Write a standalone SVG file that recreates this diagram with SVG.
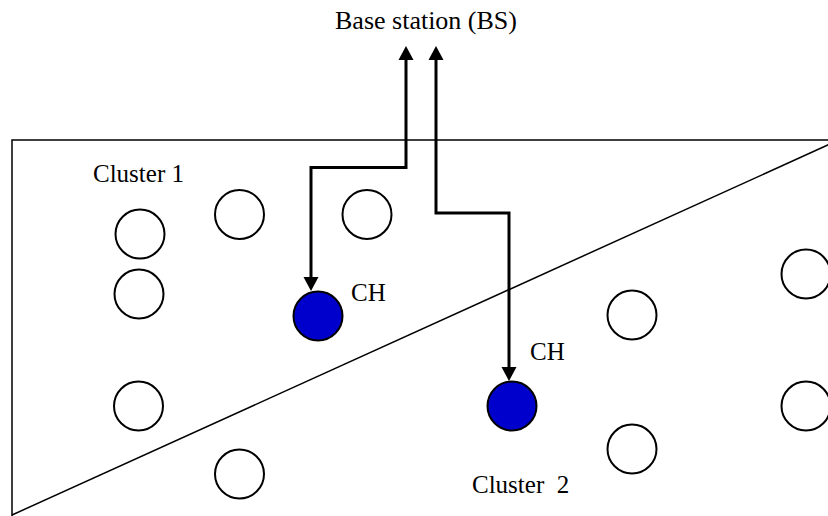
<svg xmlns="http://www.w3.org/2000/svg" width="828" height="516" viewBox="0 0 828 516">
<style>
.frame{fill:none;stroke:#000;stroke-width:1.5}
.node{fill:#fff;stroke:#000;stroke-width:2}
.ch{fill:#0000cc;stroke:#000;stroke-width:2}
.link{fill:none;stroke:#000;stroke-width:3;stroke-linejoin:miter}
text{font-family:"Liberation Serif","Times New Roman",serif;font-size:25px;fill:#000}
.big{font-size:26px}
</style>
<defs>
<marker id="ah" markerUnits="userSpaceOnUse" markerWidth="16" markerHeight="16" viewBox="0 -8 15 16" refX="0" refY="0" orient="auto-start-reverse">
<path d="M0,-7.5 L14,0 L0,7.5 z" fill="#000"/>
</marker>
</defs>
<rect width="828" height="516" fill="#fff"/>
<g id="area">
<path class="frame" d="M12,516 V140 H840"/>
<path class="frame" d="M12,515 L840,139.5"/>
</g>
<g id="bs"><text class="big" x="335" y="29">Base station (BS)</text></g>
<g id="cluster1-label"><text x="93" y="182">Cluster 1</text></g>
<g id="cluster2-label"><text x="472" y="493" xml:space="preserve">Cluster  2</text></g>
<g id="n1"><circle class="node" cx="140" cy="234" r="24.5"/></g>
<g id="n2"><circle class="node" cx="139" cy="294" r="24.5"/></g>
<g id="n3"><circle class="node" cx="239.5" cy="214.5" r="24.5"/></g>
<g id="n4"><circle class="node" cx="367" cy="214.5" r="24.5"/></g>
<g id="n5"><circle class="node" cx="138.5" cy="406" r="24.5"/></g>
<g id="n6"><circle class="node" cx="239.5" cy="474" r="24.5"/></g>
<g id="ch1"><circle class="ch" cx="318" cy="316" r="24.5"/><text x="351" y="301">CH</text></g>
<g id="n7"><circle class="node" cx="632" cy="315" r="24.5"/></g>
<g id="n8"><circle class="node" cx="806" cy="274" r="24.5"/></g>
<g id="ch2"><circle class="ch" cx="512" cy="406" r="24.5"/><text x="530" y="360">CH</text></g>
<g id="n9"><circle class="node" cx="632" cy="449" r="24.5"/></g>
<g id="n10"><circle class="node" cx="806" cy="406" r="24.5"/></g>
<g id="connectors">
<path class="link" d="M406,60 V167.5 H311 V277" marker-start="url(#ah)" marker-end="url(#ah)"/>
<path class="link" d="M436,60 V213 H509 V367" marker-start="url(#ah)" marker-end="url(#ah)"/>
</g>
</svg>
